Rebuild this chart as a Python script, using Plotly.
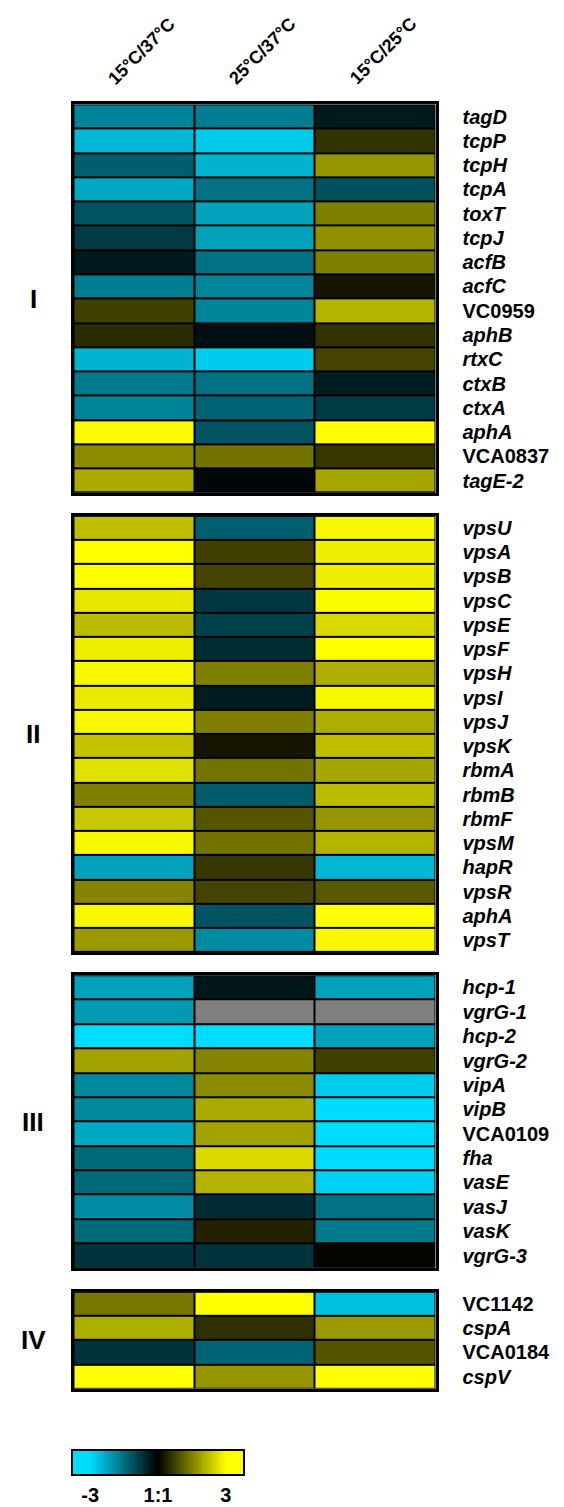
import plotly.graph_objects as go

# ---------------- data ----------------
conditions = ["15°C/37°C", "25°C/37°C", "15°C/25°C"]
group_names = ["I", "II", "III", "IV"]
locus_tags = ["VC0959", "VCA0837", "VCA0109", "VC1142", "VCA0184"]

genes_I = ["tagD", "tcpP", "tcpH", "tcpA", "toxT", "tcpJ", "acfB", "acfC",
           "VC0959", "aphB", "rtxC", "ctxB", "ctxA", "aphA", "VCA0837", "tagE-2"]
I_15_37 = [-1.8, -2.5, -1.3, -2.3, -1.15, -0.8, -0.35, -1.7, 0.75, 0.5, -2.45, -1.65, -1.8, 2.95, 1.65, 2.0]
I_25_37 = [-1.7, -2.75, -2.45, -1.55, -2.2, -2.2, -1.55, -1.8, -1.8, -0.2, -2.8, -1.55, -1.35, -1.15, 1.35, -0.1]
I_15_25 = [-0.35, 0.6, 1.75, -1.1, 1.5, 1.7, 1.5, 0.25, 2.1, 0.6, 0.8, -0.4, -0.8, 3.0, 0.65, 1.95]

genes_II = ["vpsU", "vpsA", "vpsB", "vpsC", "vpsE", "vpsF", "vpsH", "vpsI", "vpsJ",
            "vpsK", "rbmA", "rbmB", "rbmF", "vpsM", "hapR", "vpsR", "aphA", "vpsT"]
II_15_37 = [2.25, 3.0, 3.0, 2.7, 2.2, 2.8, 2.9, 2.75, 2.9, 2.3, 2.65, 1.5, 2.35, 2.9, -2.2, 1.55, 2.9, 1.8]
II_25_37 = [-1.3, 0.75, 0.8, -0.75, -0.9, -0.6, 1.5, -0.4, 1.5, 0.25, 1.35, -1.25, 1.0, 1.35, 0.65, 0.8, -1.15, -1.9]
II_15_25 = [2.9, 2.8, 2.8, 2.95, 2.55, 3.0, 2.05, 2.9, 2.05, 2.25, 1.95, 2.2, 1.75, 2.1, -2.5, 1.05, 3.0, 2.9]

genes_III = ["hcp-1", "vgrG-1", "hcp-2", "vgrG-2", "vipA", "vipB", "VCA0109",
             "fha", "vasE", "vasJ", "vasK", "vgrG-3"]
III_15_37 = [-2.2, -2.1, -3.0, 1.9, -1.85, -1.85, -2.3, -1.45, -1.45, -1.9, -1.45, -0.7]
III_25_37 = [-0.3, None, -3.0, 1.55, 1.65, 2.0, 1.9, 2.55, 2.1, -0.6, 0.4, -0.7]
III_15_25 = [-2.2, None, -2.2, 0.75, -2.8, -3.0, -3.0, -3.0, -2.85, -1.55, -1.65, 0.05]

genes_IV = ["VC1142", "cspA", "VCA0184", "cspV"]
IV_15_37 = [1.4, 2.05, -0.7, 3.0]
IV_25_37 = [3.0, 0.55, -1.35, 1.75]
IV_15_25 = [-2.65, 1.8, 1.0, 3.0]

colorbar_ticks = [-3, 0, 3]
colorbar_labels = ["-3", "1:1", "3"]

# ---------------- figure ----------------
# the page body adds an 8px margin, so the figure is sized/offset to fit
OX, OY = 8, 8
W, H = 564 - OX, 1507 - OY
FONT = "Liberation Sans"


def px(x):
    return (x - OX) / W


def py(y):
    return 1 - (y - OY) / H


ZMIN, ZMAX = -3.8, 3.8
lo = (3.8 - 3.0) / 7.6
colorscale = [[0.0, "rgb(0,220,255)"], [lo, "rgb(0,220,255)"], [0.5, "rgb(0,0,0)"],
              [1 - lo, "rgb(255,255,0)"], [1.0, "rgb(255,255,0)"]]

groups = [
    (genes_I, [I_15_37, I_25_37, I_15_25], (103, 495)),
    (genes_II, [II_15_37, II_25_37, II_15_25], (515, 955)),
    (genes_III, [III_15_37, III_25_37, III_15_25], (975, 1271)),
    (genes_IV, [IV_15_37, IV_25_37, IV_15_25], (1292, 1392)),
]

X0, X1 = 72, 437
B = 1.5  # half border inset

fig = go.Figure()
layout_axes = {}
annotations = []


def label(g):
    return g if g in locus_tags else "<i>%s</i>" % g


for k, (genes, cols, (top, bot)) in enumerate(groups, start=1):
    n = len(genes)
    z = [[cols[c][i] for c in range(3)] for i in range(n)]
    zmiss = [[1 if cols[c][i] is None else None for c in range(3)] for i in range(n)]
    xa = "x" if k == 1 else "x%d" % k
    ya = "y" if k == 1 else "y%d" % k
    tr = dict(
        x=[0, 1, 2], y=list(range(n)), z=z, xaxis=xa, yaxis=ya,
        colorscale=colorscale, zmin=ZMIN, zmax=ZMAX, xgap=2, ygap=2,
        showscale=(k == 1), hoverinfo="skip",
    )
    if k == 1:
        tr["colorbar"] = dict(
            orientation="h", x=px(X0), xanchor="left",
            y=py(1452), yanchor="top",
            len=172, lenmode="pixels", thickness=25, thicknessmode="pixels",
            xpad=0, ypad=0, outlinewidth=2, outlinecolor="black",
            tickvals=colorbar_ticks, ticktext=colorbar_labels,
            tickfont=dict(family=FONT, size=20, color="black", weight="bold"),
            ticks="outside", ticklen=2, tickcolor="rgba(0,0,0,0)",
        )
    fig.add_trace(go.Heatmap(**tr))
    if any(v is None for c in cols for v in c):
        fig.add_trace(go.Heatmap(
            x=[0, 1, 2], y=list(range(n)), z=zmiss, xaxis=xa, yaxis=ya,
            colorscale=[[0, "rgb(128,128,128)"], [1, "rgb(128,128,128)"]],
            showscale=False, xgap=2, ygap=2, hoverinfo="skip"))

    xk = "xaxis" if k == 1 else "xaxis%d" % k
    yk = "yaxis" if k == 1 else "yaxis%d" % k
    layout_axes[xk] = dict(
        domain=[px(X0 + B), px(X1 - B)], range=[-0.5, 2.5], anchor=ya,
        showticklabels=False, showgrid=False, zeroline=False, ticks="",
        showline=True, mirror=True, linecolor="black", linewidth=3,
    )
    layout_axes[yk] = dict(
        domain=[py(bot - B), py(top + B)], range=[n - 0.5, -0.5],
        anchor=xa, side="right", tickmode="array", tickvals=list(range(n)),
        ticktext=[label(g) for g in genes], ticks="", ticklabelstandoff=20,
        tickfont=dict(family=FONT, size=20, color="black", weight="bold"),
        showgrid=False, zeroline=False,
        showline=True, mirror=True, linecolor="black", linewidth=3,
    )
    annotations.append(dict(
        text="<b>%s</b>" % group_names[k - 1], xref="paper", yref="paper",
        x=px(33), y=py((top + bot) / 2), showarrow=False,
        xanchor="center", yanchor="middle",
        font=dict(family=FONT, size=26, color="black")))

for c, name in enumerate(conditions):
    annotations.append(dict(
        text="<b>%s</b>" % name, xref="x", yref="y domain", x=c, y=1,
        xanchor="center", yanchor="bottom", textangle=-45, showarrow=False,
        xshift=8, yshift=13, font=dict(family=FONT, size=18, color="black")))

fig.update_layout(
    width=W, height=H, margin=dict(l=0, r=0, t=0, b=0),
    paper_bgcolor="white", plot_bgcolor="black",
    annotations=annotations, showlegend=False, **layout_axes,
)

fig.write_html("out.html")
